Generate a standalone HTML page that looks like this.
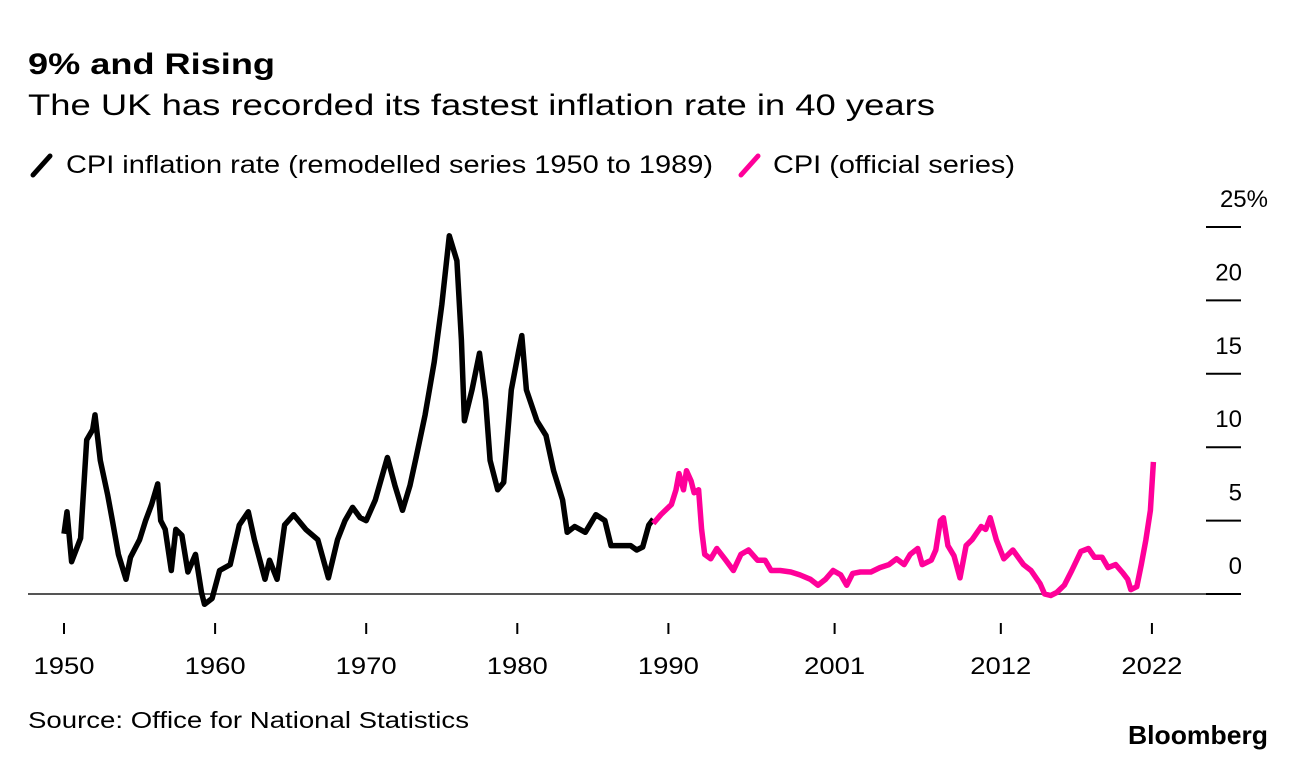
<!DOCTYPE html>
<html><head><meta charset="utf-8">
<style>
body{margin:0;width:1296px;height:760px;background:#fff;font-family:"Liberation Sans",sans-serif;overflow:hidden}
svg{display:block}
</style></head>
<body>
<svg width="1296" height="760">
<text x="28" y="74" font-size="30" font-weight="bold" fill="#000" textLength="247" lengthAdjust="spacingAndGlyphs">9% and Rising</text>
<text x="28" y="115" font-size="30" fill="#000" textLength="907" lengthAdjust="spacingAndGlyphs">The UK has recorded its fastest inflation rate in 40 years</text>
<g>
<line x1="33" y1="175" x2="50" y2="156" stroke="#000" stroke-width="5" stroke-linecap="round"/>
<text x="66" y="173" font-size="25" fill="#000" textLength="647" lengthAdjust="spacingAndGlyphs">CPI inflation rate (remodelled series 1950 to 1989)</text>
<line x1="741" y1="175" x2="758" y2="156" stroke="#ff0099" stroke-width="5" stroke-linecap="round"/>
<text x="773" y="173" font-size="25" fill="#000" textLength="242" lengthAdjust="spacingAndGlyphs">CPI (official series)</text>
</g>
<g id="yaxis"></g>
<g id="xaxis"></g>
<line x1="28" y1="594" x2="1206" y2="594" stroke="#555" stroke-width="2"/>
<g id="series"></g>
<text x="28" y="728" font-size="23" fill="#000" textLength="441" lengthAdjust="spacingAndGlyphs">Source: Office for National Statistics</text>
<text x="1268" y="744" font-size="26" font-weight="bold" fill="#000" text-anchor="end" textLength="140" lengthAdjust="spacingAndGlyphs">Bloomberg</text>
</svg>
<script>
const yTicks=[0,5,10,15,20,25];
const yTickLabels=["0","5","10","15","20","25%"];
const xTicks=[1950,1960,1970,1980,1990,2001,2012,2022];
const remodelledYears=[1950,1950.2,1950.5,1951.1,1951.5,1951.9,1952.05,1952.4,1952.9,1953.2,1953.6,1954.1,1954.4,1955,1955.4,1955.8,1956.2,1956.4,1956.7,1957.1,1957.4,1957.8,1958.2,1958.7,1959.1,1959.3,1959.8,1960.3,1961,1961.6,1962.2,1962.6,1963.3,1963.6,1964.1,1964.6,1965.2,1966,1966.8,1967.5,1968.1,1968.6,1969.1,1969.6,1970,1970.6,1971.4,1971.9,1972.4,1972.9,1973.3,1973.9,1974.5,1975,1975.5,1976,1976.3,1976.5,1977,1977.5,1977.9,1978.2,1978.7,1979.1,1979.6,1980.1,1980.3,1980.6,1981.3,1981.9,1982.4,1983,1983.3,1983.8,1984.5,1985.2,1985.8,1986.2,1986.9,1987.5,1987.9,1988.3,1988.7,1989];
const remodelledValues=[4.1,5.6,2.2,3.8,10.5,11.2,12.2,9.1,6.7,5,2.7,1,2.5,3.7,5,6.1,7.5,5,4.4,1.6,4.4,4,1.5,2.7,0.1,-0.7,-0.3,1.6,2,4.7,5.6,3.7,1,2.3,1,4.7,5.4,4.4,3.7,1.1,3.7,5,5.9,5.2,5,6.4,9.3,7.4,5.7,7.4,9.3,12.2,15.8,19.7,24.4,22.7,17.3,11.8,13.9,16.4,13.2,9.1,7.1,7.6,13.9,16.6,17.6,13.9,11.8,10.8,8.4,6.4,4.2,4.6,4.2,5.4,5,3.3,3.3,3.3,3,3.2,4.7,5.1];
const officialYears=[1989,1989.5,1990.2,1990.5,1990.7,1991,1991.2,1991.5,1991.7,1992,1992.2,1992.4,1992.8,1993.2,1993.8,1994.3,1994.8,1995.3,1995.9,1996.4,1996.8,1997.4,1998.1,1998.7,1999.4,1999.9,2000.4,2000.9,2001.4,2001.8,2002.2,2002.7,2003.4,2004,2004.6,2005.1,2005.6,2006,2006.5,2006.8,2007.4,2007.7,2008,2008.2,2008.5,2008.9,2009.3,2009.7,2010.1,2010.7,2011,2011.3,2011.7,2012.2,2012.8,2013.5,2014,2014.6,2014.9,2015.3,2015.7,2016.2,2016.7,2017.3,2017.8,2018.2,2018.7,2019.1,2019.6,2020.1,2020.4,2020.6,2021,2021.3,2021.6,2021.9,2022.1];
const officialValues=[4.8,5.4,6.1,7.1,8.2,7.1,8.4,7.7,6.9,7.1,4.4,2.7,2.4,3.1,2.3,1.6,2.7,3,2.3,2.3,1.6,1.6,1.5,1.3,1,0.6,1,1.6,1.3,0.6,1.4,1.5,1.5,1.8,2,2.4,2,2.7,3.1,2,2.3,3,5,5.2,3.3,2.6,1.1,3.3,3.7,4.6,4.4,5.2,3.7,2.4,3,2,1.6,0.7,0,-0.1,0.1,0.6,1.6,2.9,3.1,2.5,2.5,1.8,2,1.4,1,0.3,0.5,2,3.7,5.7,9];
const NS='http://www.w3.org/2000/svg';
const xs=y=>64+(y-1950)*15.11;
const ys=v=>594-v*14.68;
const ya=document.getElementById('yaxis'),xa=document.getElementById('xaxis'),sg=document.getElementById('series');
yTicks.forEach((v,i)=>{
 const l=document.createElementNS(NS,'line');
 l.setAttribute('x1',1206);l.setAttribute('x2',1241);l.setAttribute('y1',ys(v));l.setAttribute('y2',ys(v));
 l.setAttribute('stroke','#000');l.setAttribute('stroke-width','2');
 
 
 ya.appendChild(l);
 const t=document.createElementNS(NS,'text');
 t.setAttribute('x',i===5?1268:1242);t.setAttribute('y',ys(v)-20);t.setAttribute('font-size','24');t.setAttribute('text-anchor','end');
 t.textContent=yTickLabels[i];
 
 
 ya.appendChild(t);
});
xTicks.forEach(y=>{
 const l=document.createElementNS(NS,'line');
 l.setAttribute('x1',xs(y));l.setAttribute('x2',xs(y));l.setAttribute('y1',623);l.setAttribute('y2',634);
 l.setAttribute('stroke','#000');l.setAttribute('stroke-width','2');
 
 
 xa.appendChild(l);
 const t=document.createElementNS(NS,'text');
 t.setAttribute('x',xs(y));t.setAttribute('y',674);t.setAttribute('font-size','24');t.setAttribute('text-anchor','middle');
 t.setAttribute('textLength','61');t.setAttribute('lengthAdjust','spacingAndGlyphs');
 t.textContent=y;
 
 
 xa.appendChild(t);
});
function line(years,vals,color,name){
 const p=document.createElementNS(NS,'path');
 p.setAttribute('d',years.map((y,i)=>(i?'L':'M')+xs(y).toFixed(1)+','+ys(vals[i]).toFixed(1)).join(''));
 p.setAttribute('fill','none');p.setAttribute('stroke',color);p.setAttribute('stroke-width','5.5');p.setAttribute('stroke-linejoin','round');
 
 
 sg.appendChild(p);
}
line(remodelledYears,remodelledValues,'#000','remodelled-cpi-line');
line(officialYears,officialValues,'#ff0099','official-cpi-line');
</script>
</body></html>
